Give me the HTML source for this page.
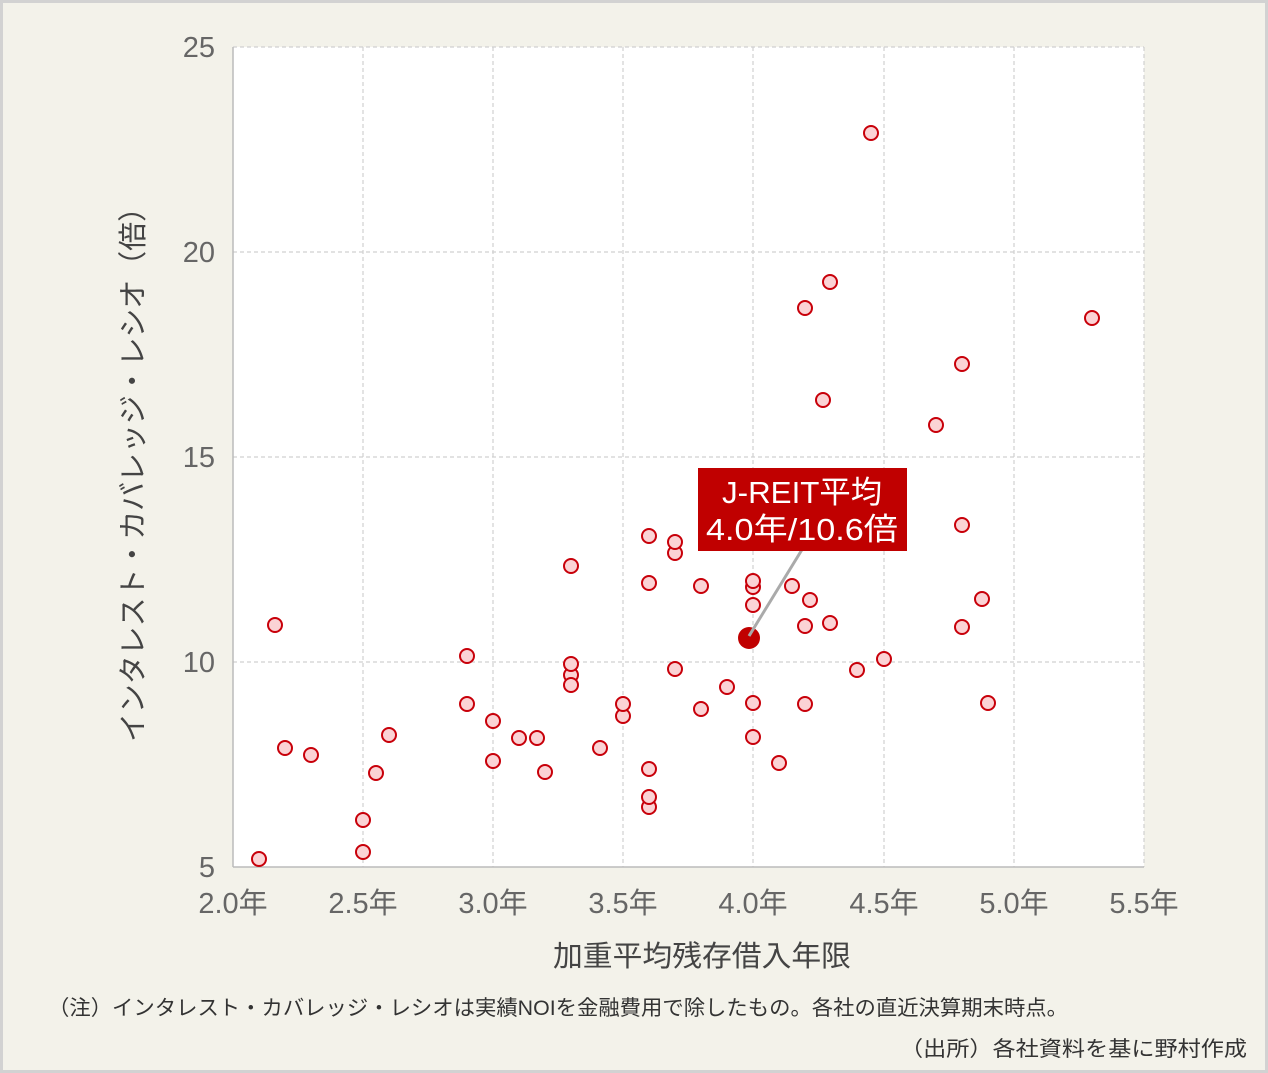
<!DOCTYPE html>
<html><head><meta charset="utf-8"><style>
html,body{margin:0;padding:0;width:1268px;height:1073px;overflow:hidden;background:#f3f2ea}
svg{display:block}
text{font-family:"Liberation Sans","Noto Sans CJK JP",sans-serif}
</style></head><body>
<svg width="1268" height="1073" xmlns="http://www.w3.org/2000/svg">
<rect x="1.5" y="1.5" width="1265" height="1070" fill="#f3f2ea" stroke="#d2d2d2" stroke-width="3"/>
<rect x="233" y="47" width="911" height="820" fill="#fff"/>
<g stroke="#d0d0d0" stroke-width="1.2" stroke-dasharray="4,3">
<line x1="363" y1="47" x2="363" y2="867"/><line x1="493" y1="47" x2="493" y2="867"/>
<line x1="623" y1="47" x2="623" y2="867"/><line x1="753" y1="47" x2="753" y2="867"/>
<line x1="884" y1="47" x2="884" y2="867"/><line x1="1014" y1="47" x2="1014" y2="867"/>
<line x1="1144" y1="47" x2="1144" y2="867"/>
<line x1="233" y1="47" x2="1144" y2="47"/><line x1="233" y1="252" x2="1144" y2="252"/>
<line x1="233" y1="457" x2="1144" y2="457"/><line x1="233" y1="662" x2="1144" y2="662"/>
</g>
<g stroke="#bbb" stroke-width="1.5"><line x1="233" y1="47" x2="233" y2="867"/><line x1="233" y1="867" x2="1144" y2="867"/></g>
<g font-size="29" fill="#666" text-anchor="end">
<text x="215" y="57">25</text><text x="215" y="262">20</text><text x="215" y="467">15</text><text x="215" y="672">10</text><text x="215" y="877">5</text>
</g>
<g font-size="29" fill="#666" text-anchor="middle">
<text x="233" y="913">2.0年</text><text x="363" y="913">2.5年</text><text x="493" y="913">3.0年</text><text x="623" y="913">3.5年</text><text x="753" y="913">4.0年</text><text x="884" y="913">4.5年</text><text x="1014" y="913">5.0年</text><text x="1144" y="913">5.5年</text>
</g>
<text x="553" y="966" font-size="29" fill="#444" textLength="298" lengthAdjust="spacingAndGlyphs">加重平均残存借入年限</text>
<text transform="translate(143,742) rotate(-90)" font-size="29" fill="#444" textLength="549" lengthAdjust="spacingAndGlyphs">インタレスト・カバレッジ・レシオ（倍）</text>
<g fill="#fbd3d5" stroke="#c8000a" stroke-width="2">
<circle cx="259" cy="859" r="7"/><circle cx="275" cy="625" r="7"/><circle cx="285" cy="748" r="7"/><circle cx="311" cy="755" r="7"/><circle cx="363" cy="820" r="7"/><circle cx="363" cy="852" r="7"/><circle cx="376" cy="773" r="7"/><circle cx="389" cy="735" r="7"/><circle cx="467" cy="656" r="7"/><circle cx="467" cy="704" r="7"/><circle cx="493" cy="721" r="7"/><circle cx="493" cy="761" r="7"/><circle cx="519" cy="738" r="7"/><circle cx="537" cy="738" r="7"/><circle cx="545" cy="772" r="7"/><circle cx="571" cy="566" r="7"/><circle cx="571" cy="675" r="7"/><circle cx="571" cy="685" r="7"/><circle cx="571" cy="664" r="7"/><circle cx="600" cy="748" r="7"/><circle cx="623" cy="716" r="7"/><circle cx="623" cy="704" r="7"/><circle cx="649" cy="536" r="7"/><circle cx="649" cy="583" r="7"/><circle cx="649" cy="807" r="7"/><circle cx="649" cy="797" r="7"/><circle cx="649" cy="769" r="7"/><circle cx="675" cy="553" r="7"/><circle cx="675" cy="542" r="7"/><circle cx="675" cy="669" r="7"/><circle cx="701" cy="586" r="7"/><circle cx="701" cy="709" r="7"/><circle cx="727" cy="687" r="7"/><circle cx="753" cy="587" r="7"/><circle cx="753" cy="581" r="7"/><circle cx="753" cy="605" r="7"/><circle cx="753" cy="703" r="7"/><circle cx="753" cy="737" r="7"/><circle cx="779" cy="763" r="7"/><circle cx="792" cy="586" r="7"/><circle cx="805" cy="308" r="7"/><circle cx="805" cy="626" r="7"/><circle cx="805" cy="704" r="7"/><circle cx="810" cy="600" r="7"/><circle cx="823" cy="400" r="7"/><circle cx="830" cy="282" r="7"/><circle cx="830" cy="623" r="7"/><circle cx="857" cy="670" r="7"/><circle cx="871" cy="133" r="7"/><circle cx="884" cy="659" r="7"/><circle cx="936" cy="425" r="7"/><circle cx="962" cy="364" r="7"/><circle cx="962" cy="525" r="7"/><circle cx="962" cy="627" r="7"/><circle cx="982" cy="599" r="7"/><circle cx="988" cy="703" r="7"/><circle cx="1092" cy="318" r="7"/>
</g>
<circle cx="749" cy="638" r="11" fill="#c00000"/>
<line x1="749" y1="636" x2="803" y2="548" stroke="#aaa" stroke-width="3"/>
<rect x="698" y="468" width="209" height="83" fill="#c00000"/>
<text x="722" y="503" font-size="31" fill="#fff" textLength="160" lengthAdjust="spacingAndGlyphs">J-REIT平均</text>
<text x="706" y="540" font-size="31" fill="#fff" textLength="192" lengthAdjust="spacingAndGlyphs">4.0年/10.6倍</text>
<text x="48" y="1015" font-size="21" fill="#333" textLength="1020" lengthAdjust="spacingAndGlyphs">（注）インタレスト・カバレッジ・レシオは実績NOIを金融費用で除したもの。各社の直近決算期末時点。</text>
<text x="900" y="1056" font-size="21" fill="#333" textLength="347" lengthAdjust="spacingAndGlyphs">（出所）各社資料を基に野村作成</text>
</svg>
</body></html>
